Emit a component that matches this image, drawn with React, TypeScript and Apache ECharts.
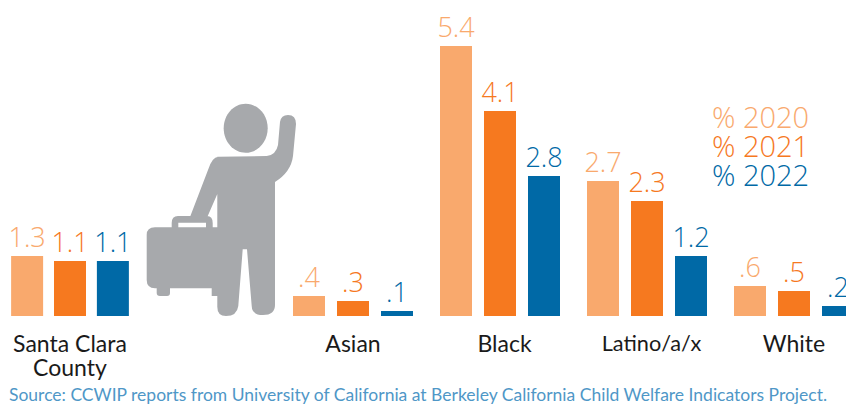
import React, { useEffect, useRef } from "react";
import * as echarts from "echarts";

const countyCategory = ["Santa Clara\nCounty"];
const groupCategories = ["Asian", "Black", "Latino/a/x", "White"];
const years = ["2020", "2021", "2022"];

// Bar heights
const county2020 = [1.2];
const county2021 = [1.1];
const county2022 = [1.1];
const group2020 = [0.4, 5.4, 2.7, 0.6];
const group2021 = [0.3, 4.1, 2.3, 0.5];
const group2022 = [0.1, 2.8, 1.2, 0.2];

// Printed labels
const countyLabels2020 = ["1.3"];
const countyLabels2021 = ["1.1"];
const countyLabels2022 = ["1.1"];
const groupLabels2020 = [".4", "5.4", "2.7", ".6"];
const groupLabels2021 = [".3", "4.1", "2.3", ".5"];
const groupLabels2022 = [".1", "2.8", "1.2", ".2"];

const sourceText =
  "Source: CCWIP reports from University of California at Berkeley California Child Welfare Indicators Project.";

const FONT = "Lato";
const NUM_FONT = "Open Sans";
const colors = ["#F9A96D", "#F6791F", "#0069A6"];

const personPath =
  "M218.3 156.7L266.7 156Q276 155 278 145L280 122Q281 115 288 115Q296 115 296 124L293 156Q291 172 275 182L275 305Q275 315 263 315Q252 315 251.7 306L247 249.3L242.7 249.3L238.3 306Q237 316 226 316Q217 316 217.3 306L217.3 156.7Z" +
  "M218.3 156.7L225 156.7L225 192L218.3 191.7L207.3 217L190 217L208 170Q212 157 218.3 156.7Z" +
  "M155 227.3L224 227.3L224 296L211.7 296L211.7 288.3L170 288.3L170 293Q170 296 167 296L160 296Q156.7 296 156.7 293L156.7 288.3L155 288.3Q146.7 288 146.7 280L146.7 235Q146.7 227.3 155 227.3Z" +
  "M178 216L207 216Q212.7 216 212.7 223L212.7 228L206 228L206 222.7L178.3 222.7L178.3 228L171.7 228L171.7 223Q171.7 216 178 216Z";

echarts.graphic.registerShape("traveler", echarts.graphic.extendPath(personPath, {}));

function barSeries(
  name: string,
  data: number[],
  labels: string[],
  color: string,
  axisIndex: number,
  gap: string
) {
  return {
    type: "bar",
    name,
    data,
    xAxisIndex: axisIndex,
    yAxisIndex: axisIndex,
    barWidth: 32,
    barGap: gap,
    itemStyle: { color },
    label: {
      show: true,
      position: "top",
      distance: 6,
      color,
      fontFamily: NUM_FONT,
      fontWeight: 300,
      fontSize: 27,
      formatter: (p: any) => labels[p.dataIndex],
    },
    silent: true,
  };
}

export default function App() {
  const ref = useRef<HTMLDivElement>(null);
  useEffect(() => {
    document.body.style.margin = "0";
    const chart = echarts.init(ref.current!, null, { renderer: "svg" });
    const xCommon = {
      type: "category",
      axisLine: { show: false },
      axisTick: { show: false },
      axisLabel: {
        color: "#1a1a1a",
        fontFamily: FONT,
        fontSize: 23,
        lineHeight: 24,
        margin: 15,
        interval: 0,
        verticalAlign: "top",
      },
    };
    const yCommon = { type: "value", min: 0, max: 6, show: false };
    const labelNudge: Record<string, any> = {
      Black: { padding: [0, 0, 0, 9] },
      "Latino/a/x": { padding: [0, 0, 0, 9], fontSize: 21.7 },
    };
    chart.setOption({
      animation: false,
      backgroundColor: "#ffffff",
      title: {
        text: sourceText,
        left: 9,
        top: 385,
        padding: 0,
        textStyle: { color: "#4F97C7", fontFamily: FONT, fontSize: 17.5, fontWeight: 400 },
      },
      legend: {
        orient: "vertical",
        left: 712,
        top: 102,
        padding: 0,
        itemGap: 0,
        itemWidth: 0,
        itemHeight: 28,
        selectedMode: false,
        formatter: "% {name}",
        data: years.map((y, i) => ({
          name: y,
          icon: "none",
          textStyle: {
            color: colors[i],
            fontFamily: NUM_FONT,
            fontWeight: 300,
            fontSize: 29,
            lineHeight: 28,
            padding: [0, 0, 0, -5],
          },
        })),
      },
      grid: [
        { left: 0, width: 140, top: 16, height: 300, outerBoundsMode: "none" },
        { left: 279.5, width: 588, top: 16, height: 300, outerBoundsMode: "none" },
      ],
      xAxis: [
        { ...xCommon, gridIndex: 0, data: countyCategory },
        {
          ...xCommon,
          gridIndex: 1,
          data: groupCategories.map((c) =>
            labelNudge[c] ? { value: c, textStyle: labelNudge[c] } : c
          ),
        },
      ],
      yAxis: [
        { ...yCommon, gridIndex: 0 },
        { ...yCommon, gridIndex: 1 },
      ],
      series: [
        barSeries(years[0], county2020, countyLabels2020, colors[0], 0, "34%"),
        barSeries(years[1], county2021, countyLabels2021, colors[1], 0, "34%"),
        barSeries(years[2], county2022, countyLabels2022, colors[2], 0, "34%"),
        barSeries(years[0], group2020, groupLabels2020, colors[0], 1, "37.5%"),
        barSeries(years[1], group2021, groupLabels2021, colors[1], 1, "37.5%"),
        barSeries(years[2], group2022, groupLabels2022, colors[2], 1, "37.5%"),
      ],
      graphic: [
        {
          type: "group",
          silent: true,
          children: [
            { type: "ellipse", shape: { cx: 245.7, cy: 128.3, rx: 22, ry: 24.5 }, style: { fill: "#A7A9AC" } },
            { type: "traveler", x: 0, y: 0, style: { fill: "#A7A9AC" } },
          ],
        },
      ],
    });
    return () => chart.dispose();
  }, []);
  return <div ref={ref} style={{ width: 846, height: 407, overflow: "hidden" }} />;
}
